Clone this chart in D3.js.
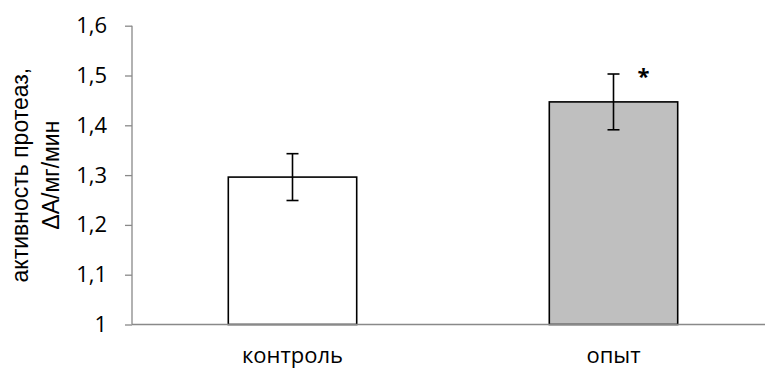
<!DOCTYPE html>
<html>
<head>
<meta charset="utf-8">
<script src="https://cdn.jsdelivr.net/npm/d3@7"></script>
<style>
  body { margin: 0; background: #ffffff; }
  svg { display: block; }
</style>
</head>
<body>
<script>
// chart data
const categories = ["контроль", "опыт"];
const values = [1.296, 1.447];
const errors = [0.047, 0.056];
const fills = ["#ffffff", "#bfbfbf"];
const marks = ["", "*"];
const tickValues = [1, 1.1, 1.2, 1.3, 1.4, 1.5, 1.6];
const tickLabels = ["1", "1,1", "1,2", "1,3", "1,4", "1,5", "1,6"];

const width = 765;
const height = 369;

const svg = d3
  .select("body")
  .append("svg")
  .attr("width", width)
  .attr("height", height);

const x = d3
  .scaleBand()
  .domain(categories)
  .range([132, 774])
  .paddingInner(0.6)
  .paddingOuter(0.3);

const y = d3.scaleLinear().domain([1, 1.6]).range([324.5, 25.7]);

// y axis
const yAxis = svg
  .append("g")
  .attr("transform", "translate(132,0)")
  .call(
    d3
      .axisLeft(y)
      .tickValues(tickValues)
      .tickSize(7)
      .tickPadding(18)
      .tickFormat((d, i) => tickLabels[i])
  );
yAxis.select(".domain").remove();
yAxis.selectAll("line").attr("stroke", "#898989").attr("stroke-width", 1.3);
yAxis
  .selectAll("text")
  .attr("fill", "#000")
  .style("font-family", "'Open Sans', sans-serif")
  .style("font-size", "22px");

svg
  .append("line")
  .attr("x1", 132)
  .attr("x2", 132)
  .attr("y1", y(1.6))
  .attr("y2", y(1))
  .attr("stroke", "#898989")
  .attr("stroke-width", 1.3);

// bars
svg
  .selectAll(".bar")
  .data(values)
  .enter()
  .append("rect")
  .attr("class", "bar")
  .attr("x", (d, i) => x(categories[i]))
  .attr("y", (d) => y(d))
  .attr("width", x.bandwidth())
  .attr("height", (d) => y(1) - y(d))
  .attr("fill", (d, i) => fills[i])
  .attr("stroke", "#000")
  .attr("stroke-width", 1.6);

// x axis line
svg
  .append("line")
  .attr("x1", 132)
  .attr("x2", width)
  .attr("y1", y(1))
  .attr("y2", y(1))
  .attr("stroke", "#898989")
  .attr("stroke-width", 1.3);

// error bars
const cx = (i) => x(categories[i]) + x.bandwidth() / 2;
const err = svg.selectAll(".err").data(values).enter().append("g");
err
  .append("line")
  .attr("x1", (d, i) => cx(i))
  .attr("x2", (d, i) => cx(i))
  .attr("y1", (d, i) => y(d + errors[i]))
  .attr("y2", (d, i) => y(d - errors[i]));
err
  .append("line")
  .attr("x1", (d, i) => cx(i) - 6)
  .attr("x2", (d, i) => cx(i) + 6)
  .attr("y1", (d, i) => y(d + errors[i]))
  .attr("y2", (d, i) => y(d + errors[i]));
err
  .append("line")
  .attr("x1", (d, i) => cx(i) - 6)
  .attr("x2", (d, i) => cx(i) + 6)
  .attr("y1", (d, i) => y(d - errors[i]))
  .attr("y2", (d, i) => y(d - errors[i]));
err.selectAll("line").attr("stroke", "#000").attr("stroke-width", 1.6);

// significance marks
svg
  .selectAll(".mark")
  .data(values)
  .enter()
  .append("text")
  .attr("x", (d, i) => cx(i) + 30)
  .attr("y", (d, i) => y(d + errors[i]) + 10)
  .attr("text-anchor", "middle")
  .style("font-family", "'Open Sans', sans-serif")
  .style("font-size", "22px")
  .style("font-weight", "bold")
  .text((d, i) => marks[i]);

// category labels
svg
  .selectAll(".cat")
  .data(categories)
  .enter()
  .append("text")
  .attr("x", (d) => x(d) + x.bandwidth() / 2)
  .attr("y", 363)
  .attr("text-anchor", "middle")
  .attr("fill", "#000")
  .style("font-family", "'Open Sans', sans-serif")
  .style("font-size", "22px")
  .text((d) => d);

// y axis title
const title = svg
  .append("text")
  .attr("transform", `translate(0, ${(y(1) + y(1.6)) / 2}) rotate(-90)`)
  .attr("text-anchor", "middle")
  .attr("fill", "#000")
  .style("font-family", "'Liberation Sans', Arial, sans-serif")
  .style("font-size", "23px");
title.append("tspan").attr("x", 0).attr("y", 28).text("активность протеаз,");
title.append("tspan").attr("x", 0).attr("y", 59).text("ΔA/мг/мин");
</script>
</body>
</html>
